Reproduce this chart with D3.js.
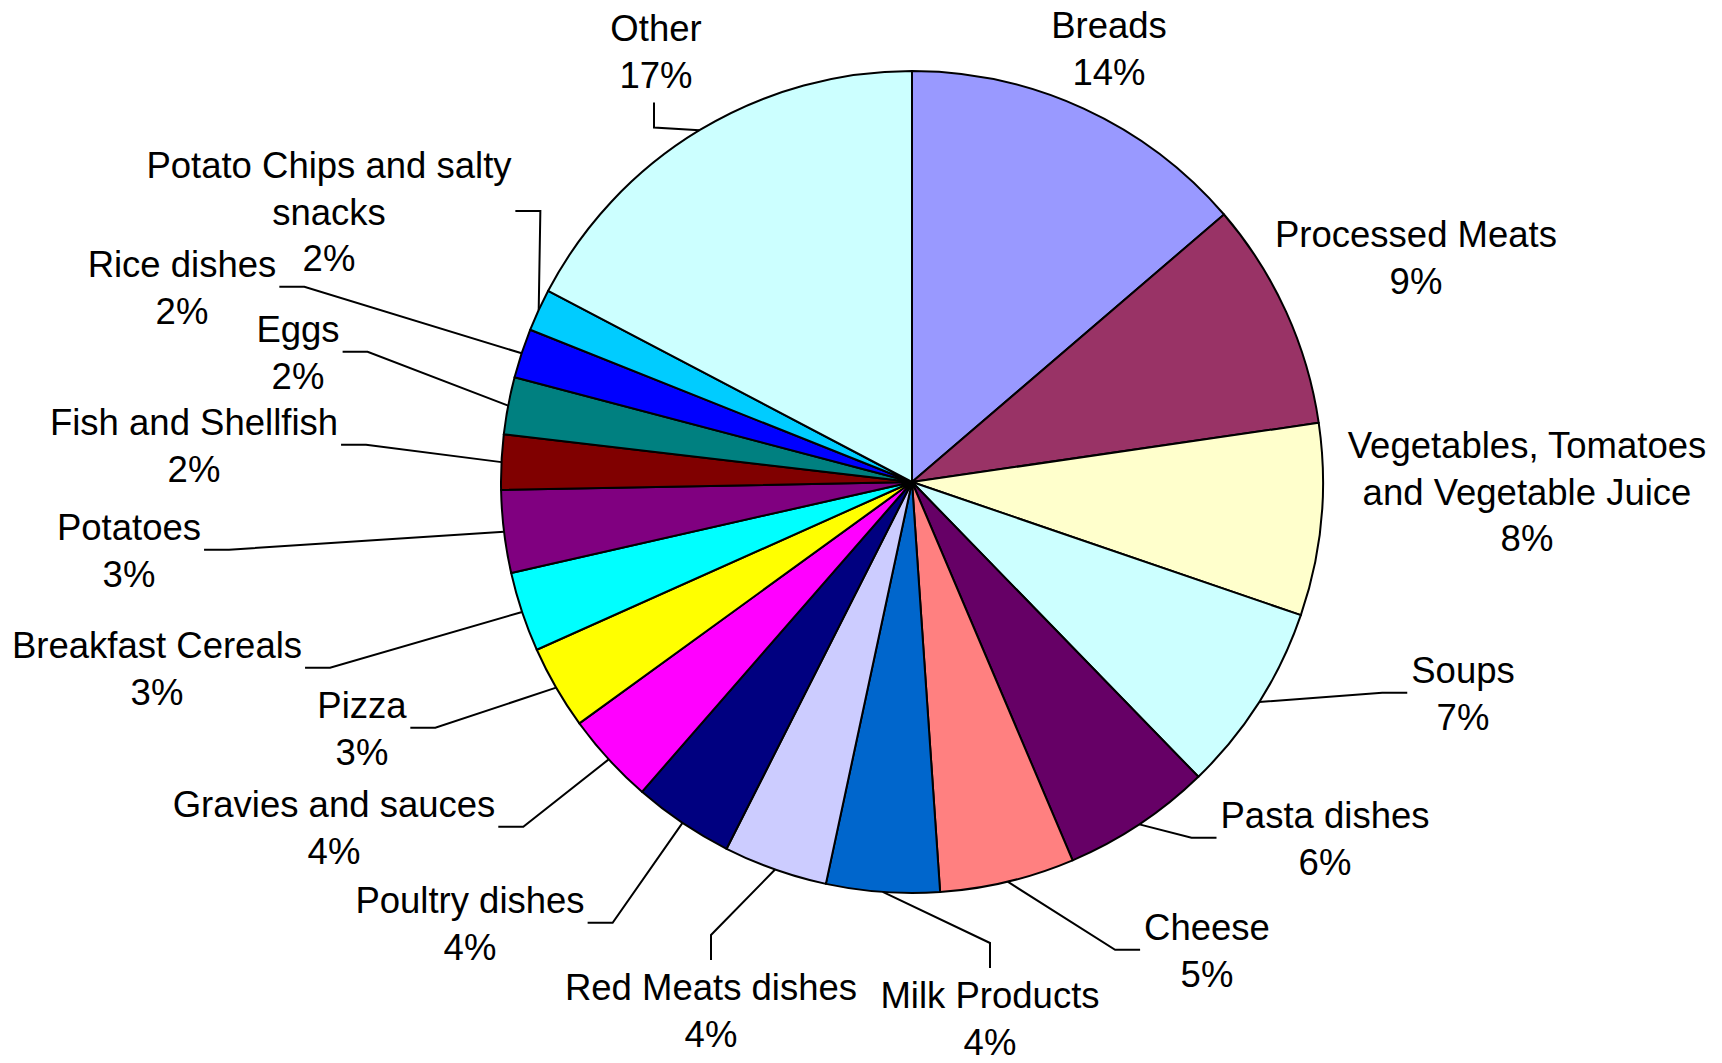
<!DOCTYPE html>
<html lang="en">
<head>
	<meta charset="utf-8">
	<title>Sources of sodium</title>
	<script type="text/javascript" src="https://cdn.jsdelivr.net/npm/d3@7"></script>
	<style>
		body { margin: 0; background: white; }
		#chart text { font-family: "Liberation Sans", Arial, sans-serif; font-size: 36.5px; fill: black; }
	</style>
</head>
<body>
<svg id="chart" width="1722" height="1063"></svg>
<script type="text/javascript">

// slices go clockwise from 12 o'clock, same order as the picture
var categories = ["Breads", "Processed Meats", "Vegetables, Tomatoes and Vegetable Juice", "Soups",
	"Pasta dishes", "Cheese", "Milk Products", "Red Meats dishes", "Poultry dishes",
	"Gravies and sauces", "Pizza", "Breakfast Cereals", "Potatoes", "Fish and Shellfish",
	"Eggs", "Rice dishes", "Potato Chips and salty snacks", "Other"]
var shares = [13.72, 8.98, 7.55, 7.48, 5.88, 5.3, 4.45, 4.09, 3.96,
	3.6, 3.3, 3.14, 3.24, 2.16, 2.25, 1.94, 1.66, 17.3]
var colors = ["#9999FF", "#993366", "#FFFFCC", "#CCFFFF", "#660066", "#FF8080", "#0066CC", "#CCCCFF", "#000080",
	"#FF00FF", "#FFFF00", "#00FFFF", "#800080", "#800000", "#008080", "#0000FF", "#00CCFF", "#CCFFFF"]

// label placement (as laid out by hand in the original): centre x, first baseline, which side the leader hooks on,
// and how many words go on the first line when the name wraps
var labelLayout = [
	{x: 1109, y: 38, side: "none"},
	{x: 1416, y: 247, side: "none"},
	{x: 1527, y: 458, side: "none", br: 2},
	{x: 1463, y: 683, side: "right"},
	{x: 1325, y: 828, side: "right"},
	{x: 1207, y: 940, side: "right"},
	{x: 990, y: 1008, side: "bottom"},
	{x: 711, y: 1000, side: "bottom"},
	{x: 470, y: 913, side: "left"},
	{x: 334, y: 817, side: "left"},
	{x: 362, y: 718, side: "left"},
	{x: 157, y: 658, side: "left"},
	{x: 129, y: 540, side: "left"},
	{x: 194, y: 435, side: "left"},
	{x: 298, y: 342, side: "left"},
	{x: 182, y: 277, side: "left"},
	{x: 329, y: 178, side: "left", br: 4},
	{x: 656, y: 41, side: "top"}
]

var cx = 912, cy = 482, radius = 411
var lineGap = 46.5, hook = 25

var svg = d3.select("#chart")
var pieG = svg.append("g").attr("transform", "translate(" + cx + "," + cy + ")")

var pie = d3.pie().sort(null).value(function(d) { return d })
var arcs = pie(shares)
var arc = d3.arc().innerRadius(0).outerRadius(radius)

pieG.selectAll("path.slice")
	.data(arcs)
	.enter().append("path")
	.attr("class", "slice")
	.attr("d", arc)
	.style("fill", function(d, i) { return colors[i] })
	.style("stroke", "black")
	.style("stroke-width", 2)
	.style("stroke-linejoin", "round")

// labels
var labelG = svg.append("g")
var labels = labelG.selectAll("g.lab")
	.data(arcs)
	.enter().append("g")
	.attr("class", "lab")

labels.each(function(d, i) {
	var lay = labelLayout[i]
	var words = categories[i].split(" ")
	var lines = lay.br ? [words.slice(0, lay.br).join(" "), words.slice(lay.br).join(" ")] : [categories[i]]
	lines.push(Math.round(shares[i]) + "%")
	var t = d3.select(this).append("text")
		.attr("text-anchor", "middle")
	t.selectAll("tspan")
		.data(lines)
		.enter().append("tspan")
		.attr("x", lay.x)
		.attr("y", function(s, k) { return lay.y + k * lineGap })
		.text(function(s) { return s })
})

// leader lines: from the arc at the slice middle, to an elbow, then a short hook to the label box
labels.each(function(d, i) {
	var lay = labelLayout[i]
	if (lay.side == "none") return
	var bb = d3.select(this).select("text").node().getBBox()
	var mid = (d.startAngle + d.endAngle) / 2
	var p0 = [cx + radius * Math.sin(mid), cy - radius * Math.cos(mid)]
	var end, elbow
	var midY = bb.y + bb.height / 2 - 1
	if (lay.side == "left") {
		end = [bb.x + bb.width + 3, midY]
		elbow = [end[0] + hook, midY]
	} else if (lay.side == "right") {
		end = [bb.x - 4, midY]
		elbow = [end[0] - hook, midY]
	} else if (lay.side == "bottom") {
		end = [lay.x, bb.y - 7]
		elbow = [lay.x, end[1] - hook]
	} else {
		end = [lay.x - 2, bb.y + bb.height + 7]
		elbow = [end[0], end[1] + hook]
	}
	svg.append("path")
		.attr("d", d3.line()([p0, elbow, end]))
		.style("fill", "none")
		.style("stroke", "black")
		.style("stroke-width", 2)
})

</script>
</body>
</html>
